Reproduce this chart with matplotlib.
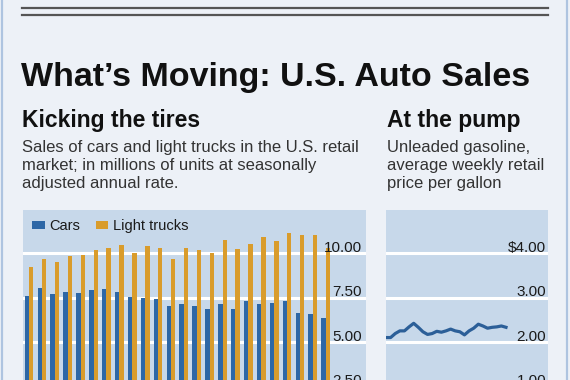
import matplotlib
matplotlib.use("Agg")
import matplotlib.pyplot as plt
from matplotlib.lines import Line2D
import numpy as np

# --- data ---
cars = [7.58, 8.01, 7.71, 7.79, 7.77, 7.92, 7.96, 7.81, 7.51, 7.49, 7.42, 7.02,
        7.12, 7.04, 6.85, 7.13, 6.84, 7.29, 7.13, 7.21, 7.29, 6.61, 6.56, 6.35]
trucks = [9.23, 9.68, 9.49, 9.85, 9.91, 10.17, 10.26, 10.43, 10.02, 10.41, 10.30, 9.66,
          10.30, 10.15, 9.98, 10.75, 10.21, 10.49, 10.92, 10.69, 11.14, 10.99, 11.03, 10.26]
sales_ticks = [2.5, 5.0, 7.5, 10.0]
sales_labels = ["2.50", "5.00", "7.50", "10.00"]

gas = [2.10, 2.10, 2.19, 2.25, 2.25, 2.34, 2.42, 2.33, 2.23, 2.17, 2.19, 2.24, 2.22, 2.25,
       2.29, 2.25, 2.23, 2.16, 2.25, 2.31, 2.40, 2.36, 2.31, 2.33, 2.34, 2.36, 2.33]
gas_ticks = [1.0, 2.0, 3.0, 4.0]
gas_labels = ["1.00", "2.00", "3.00", "$4.00"]

BG = "#edf1f7"
PANEL = "#c7d8ea"
BLUE = "#2d67a6"
ORANGE = "#d99c2c"
LINE = "#2c5f98"
FONT = "Liberation Sans"

W, H = 570, 380
fig = plt.figure(figsize=(W / 100, H / 100), dpi=100, facecolor=BG)


def fx(x):
    return x / W


def fy(y):
    return 1 - y / H


# frame lines and double rule at top
fig.add_artist(Line2D([fx(1.5), fx(1.5)], [0, 1], color="#aec4e0", lw=1.6))
fig.add_artist(Line2D([fx(566.5), fx(566.5)], [0, 1], color="#aec4e0", lw=1.6))
for yy in (8, 15):
    fig.add_artist(Line2D([fx(22), fx(548)], [fy(yy), fy(yy)], color="#555555", lw=1.6))

# titles
fig.text(fx(21), fy(86), "What’s Moving: U.S. Auto Sales", family=FONT,
         weight="bold", fontsize=24.5, color="#111111", va="baseline")
fig.text(fx(22), fy(127), "Kicking the tires", family=FONT, weight="bold",
         fontsize=16.5, color="#111111", va="baseline")
fig.text(fx(387), fy(127), "At the pump", family=FONT, weight="bold",
         fontsize=16.5, color="#111111", va="baseline")
fig.text(fx(22), fy(140), "Sales of cars and light trucks in the U.S. retail\n"
         "market; in millions of units at seasonally\nadjusted annual rate.",
         family=FONT, fontsize=12, color="#333333", va="top", linespacing=1.25)
fig.text(fx(387), fy(140), "Unleaded gasoline,\naverage weekly retail\nprice per gallon",
         family=FONT, fontsize=12, color="#333333", va="top", linespacing=1.25)

# axes extend below the figure bottom (chart is cropped in the reference)
zero_y = 431
top_y = 210
ax1 = fig.add_axes([fx(22.7), fy(zero_y), (366 - 22.7) / W, (zero_y - top_y) / H])
ax2 = fig.add_axes([fx(386), fy(zero_y), (548 - 386) / W, (zero_y - top_y) / H])

# --- sales bars ---
x = np.arange(len(cars))
bw = 0.34
ax1.set_facecolor(PANEL)
ax1.bar(x - bw / 2, cars, width=bw, color=BLUE, label="Cars", zorder=3)
ax1.bar(x + bw / 2, trucks, width=bw, color=ORANGE, label="Light trucks", zorder=3)
ax1.set_xlim(-0.49, 26.12)
ax1.set_ylim(0, (zero_y - top_y) / 17.8)
for t, lab in zip(sales_ticks, sales_labels):
    ax1.axhline(t, color="white", lw=2.2, zorder=1)
    ax1.text(0.988, t + 0.08, lab, transform=ax1.get_yaxis_transform(), ha="right",
             va="baseline", family=FONT, fontsize=11, color="#1a1a1a", zorder=4)
leg = ax1.legend(loc="upper left", bbox_to_anchor=(0.0, 1.0), ncol=2, frameon=False,
                 handlelength=0.85, handleheight=0.5, handletextpad=0.3,
                 columnspacing=1.1, borderaxespad=0.25,
                 prop={"family": FONT, "size": 10.5})
for txt in leg.get_texts():
    txt.set_color("#1a1a1a")

# --- gasoline line ---
ax2.set_facecolor(PANEL)
ax2.plot(np.arange(len(gas)), gas, color=LINE, lw=2.3, zorder=3)
ax2.set_xlim(0, (len(gas) - 1) * 162 / 120)
ax2.set_ylim(0, (zero_y - top_y) / 44.5)
for t, lab in zip(gas_ticks, gas_labels):
    ax2.axhline(t, color="white", lw=2.2, zorder=1)
    ax2.text(0.988, t + 0.03, lab, transform=ax2.get_yaxis_transform(), ha="right",
             va="baseline", family=FONT, fontsize=11, color="#1a1a1a", zorder=4)

for ax in (ax1, ax2):
    ax.set_xticks([])
    ax.set_yticks([])
    for s in ax.spines.values():
        s.set_visible(False)

fig.savefig("out.png", dpi=100, facecolor=BG)
